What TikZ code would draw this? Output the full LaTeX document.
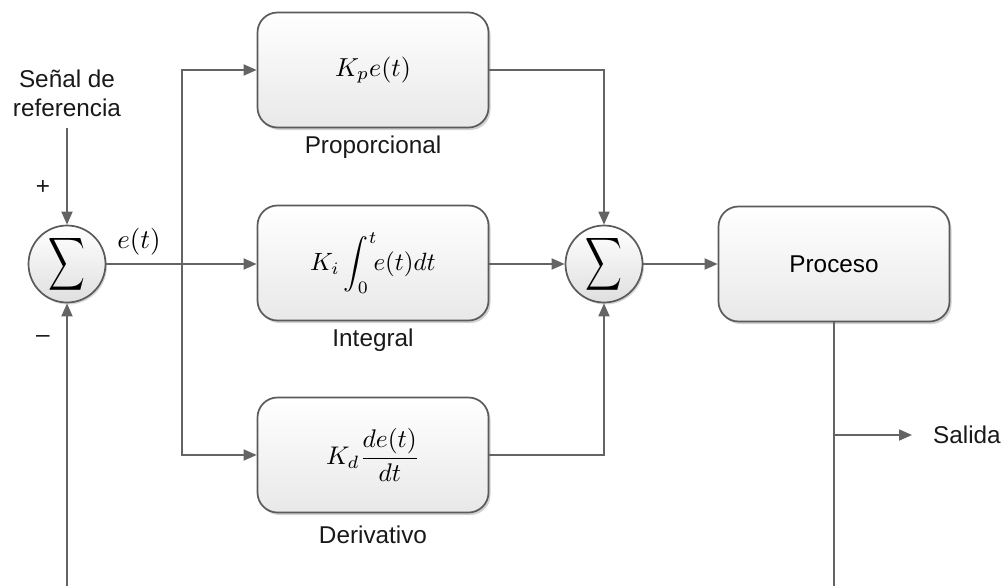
\documentclass[tikz,border=0pt]{standalone}
\usepackage{graphicx}
\usepackage{fontspec}
\setmainfont{Liberation Sans}
\usetikzlibrary{arrows.meta,shadows,positioning}
\definecolor{linec}{RGB}{100,100,100}
\definecolor{borderc}{RGB}{90,90,90}
\newcommand{\sumsym}{\scalebox{2.55}[3.7]{$\displaystyle\sum$}}
\tikzset{
  arr/.style={draw=linec,line width=1.8pt,-{Triangle[length=13pt,width=11pt]}},
  ln/.style={draw=linec,line width=1.8pt},
  blockbox/.style={draw=borderc,line width=1.7pt,rounded corners=20pt,minimum width=231pt,minimum height=115pt,
    top color=white,bottom color=gray!18,
    drop shadow={shadow xshift=2pt,shadow yshift=-2.5pt,opacity=0.45,fill=gray!80}},
  sumnode/.style={circle,draw=borderc,line width=1.7pt,minimum size=77pt,inner sep=0pt,
    top color=white,bottom color=gray!25,
    drop shadow={shadow xshift=1.5pt,shadow yshift=-2pt,opacity=0.4,fill=gray!80}},
  lbl/.style={font=\fontsize{24.3}{29}\selectfont,text=black!90,inner sep=2pt},
  mlbl/.style={inner sep=1pt}
}
\begin{document}
\begin{tikzpicture}[x=1pt,y=-1pt]
\useasboundingbox (0,0) rectangle (1006,586);
% nodes
\node[sumnode] (sumA) at (67,264) {\sumsym};
\node[sumnode] (sumB) at (604,264) {\sumsym};
\node[blockbox] (P) at (373,70) {\scalebox{2.6}{$K_p e(t)$}};
\node[blockbox] (I) at (373,263) {\scalebox{2.5}{$K_i\displaystyle\int_0^t\!\! e(t)dt$}};
\node[blockbox] (D) at (373,455) {\scalebox{2.55}{$K_d\displaystyle\frac{de(t)}{dt}$}};
\node[blockbox] (Proc) at (834,264) {\fontsize{24.3}{29}\selectfont Proceso};
% labels
\node[lbl,align=center] (sref) at (67,93) {Señal de\\referencia};
\node[lbl] (plus) at (43,187) {+};
\node[lbl] (minus) at (43,339) {–};
\node[mlbl] (et) at (139,242) {\scalebox{2.7}{$e(t)$}};
\node[lbl] (lp) at (373,147) {Proporcional};
\node[lbl] (li) at (373,340) {Integral};
\node[lbl] (ld) at (373,535) {Derivativo};
\node[lbl,anchor=west,inner sep=0pt] (sal) at (933,435) {Salida};
% coordinates
\coordinate (srcTop) at (67,128);
\coordinate (br) at (182,264);
\coordinate (fbA) at (67,586);
\coordinate (fbB) at (834,586);
\coordinate (tap) at (834,435);
\coordinate (salTip) at (912,435);
% connectors
\draw[arr] (srcTop) -- (sumA.north);
\draw[arr] (fbA) -- (sumA.south);
\draw[arr] (sumA.east) -- (I.west |- sumA.east);
\draw[arr] (br) |- (P.west);
\draw[arr] (br) |- (D.west);
\draw[arr] (P.east) -| (sumB.north);
\draw[arr] (D.east) -| (sumB.south);
\draw[arr] (I.east |- sumB.west) -- (sumB.west);
\draw[arr] (sumB.east) -- (Proc.west);
\draw[ln] (Proc.south) -- (fbB);
\draw[arr] (tap) -- (salTip);
\end{tikzpicture}
\end{document}
